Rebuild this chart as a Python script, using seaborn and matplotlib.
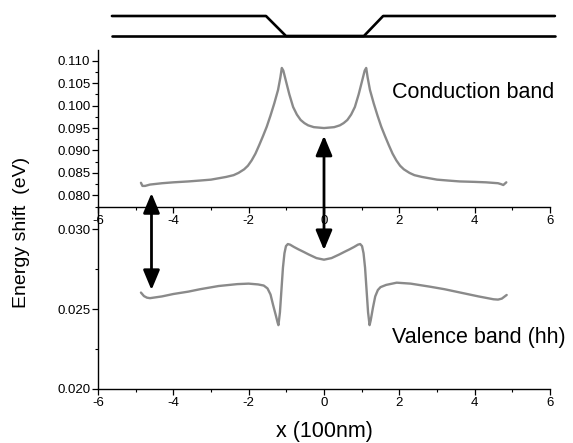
import matplotlib
matplotlib.use("Agg")
import matplotlib.pyplot as plt
import seaborn as sns
import pandas as pd
from matplotlib.ticker import MultipleLocator, FormatStrFormatter

# conduction band (top panel)
cb_x = [-4.86, -4.82, -4.75, -4.62, -4.30, -4.00, -3.60, -3.29, -3.00, -2.80, -2.60, -2.40,
        -2.27, -2.12, -2.02, -1.92, -1.82, -1.72, -1.62, -1.52, -1.42, -1.32, -1.22, -1.16,
        -1.12, -1.08, -1.02, -0.92, -0.82, -0.72, -0.62, -0.52, -0.42, -0.27, 0.0,
        0.27, 0.42, 0.52, 0.62, 0.72, 0.82, 0.92, 1.02, 1.08, 1.12, 1.16, 1.22, 1.32,
        1.42, 1.52, 1.62, 1.72, 1.82, 1.92, 2.02, 2.12, 2.27, 2.40, 2.60, 2.80, 3.00,
        3.29, 3.60, 4.00, 4.30, 4.62, 4.70, 4.76, 4.84]
cb_y = [0.0828, 0.0821, 0.0821, 0.0824, 0.0827, 0.0829, 0.0831, 0.0833, 0.0835, 0.0838, 0.0841, 0.0845,
        0.0850, 0.0858, 0.0866, 0.0878, 0.0893, 0.0912, 0.0932, 0.0953, 0.0978, 0.1005, 0.1035, 0.1062,
        0.1084, 0.1078, 0.1058, 0.1025, 0.0997, 0.0980, 0.0968, 0.0961, 0.0956, 0.0952, 0.0950,
        0.0952, 0.0956, 0.0961, 0.0968, 0.0980, 0.0997, 0.1025, 0.1058, 0.1078, 0.1084, 0.1062, 0.1035, 0.1005,
        0.0978, 0.0953, 0.0932, 0.0912, 0.0893, 0.0878, 0.0866, 0.0858, 0.0850, 0.0845, 0.0841, 0.0838, 0.0835,
        0.0833, 0.0831, 0.0830, 0.0829, 0.0827, 0.0825, 0.0823, 0.0829]

# heavy-hole valence band (bottom panel)
vb_x = [-4.86, -4.78, -4.70, -4.62, -4.30, -4.00, -3.60, -3.29, -2.80, -2.30, -2.00, -1.75,
        -1.60, -1.50, -1.42, -1.35, -1.28, -1.23, -1.21, -1.17, -1.13, -1.09, -1.05, -1.01,
        -0.96, -0.90, -0.80, -0.68, -0.55, -0.40, -0.20, 0.0,
        0.20, 0.40, 0.55, 0.68, 0.80, 0.90, 0.96, 1.01, 1.05, 1.09, 1.13, 1.17, 1.21,
        1.24, 1.30, 1.36, 1.43, 1.50, 1.65, 1.93, 2.30, 2.81, 3.20, 3.70, 4.10, 4.50,
        4.62, 4.72, 4.85]
vb_y = [0.02604, 0.02582, 0.02572, 0.02569, 0.02580, 0.02595, 0.02610, 0.02625, 0.02645, 0.02657, 0.02660, 0.02655,
        0.02648, 0.02630, 0.02592, 0.02525, 0.02462, 0.02415, 0.02400, 0.02480, 0.02620, 0.02760, 0.02850, 0.02895,
        0.02908, 0.02904, 0.02890, 0.02875, 0.02860, 0.02842, 0.02820, 0.02810,
        0.02820, 0.02842, 0.02860, 0.02875, 0.02890, 0.02904, 0.02908, 0.02895, 0.02850, 0.02760, 0.02620, 0.02480, 0.02400,
        0.02430, 0.02510, 0.02580, 0.02620, 0.02638, 0.02652, 0.02666, 0.02660, 0.02641, 0.02625, 0.02600, 0.02580, 0.02562,
        0.02560, 0.02566, 0.02589]

# structure sketch above the plot
well_x = [-5.63, -1.54, -1.01, 1.06, 1.57, 6.13]
well_y = [1, 1, 0, 0, 1, 1]
base_x = [-5.63, 6.13]
base_y = [0, 0]

# transition arrows: x, tip in conduction band, tip in valence band
arrow_x = [-4.58, 0.0]
arrow_cb = [0.0805, 0.0933]
arrow_vb = [0.0262, 0.0287]

x_ticks = [-6, -4, -2, 0, 2, 4, 6]

sns.set_style("ticks")
plt.rcParams['font.family'] = ['Liberation Sans', 'DejaVu Sans']
plt.rcParams['axes.unicode_minus'] = False
plt.rcParams['text.color'] = 'black'

fig = plt.figure(figsize=(5.73, 4.43), dpi=100)
L, R = 98 / 573, 550 / 573
ax_top = fig.add_axes([L, 1 - 207 / 443, R - L, 157 / 443])
ax_bot = fig.add_axes([L, 1 - 389 / 443, R - L, 182 / 443])
ax_sk = fig.add_axes([L, 1 - 42 / 443, R - L, 32 / 443])

grey = "#8a8a8a"
cb = pd.DataFrame({"x": cb_x, "y": cb_y})
vb = pd.DataFrame({"x": vb_x, "y": vb_y})
sns.lineplot(data=cb, x="x", y="y", ax=ax_top, color=grey, lw=1.7, sort=False, estimator=None)
sns.lineplot(data=vb, x="x", y="y", ax=ax_bot, color=grey, lw=1.7, sort=False, estimator=None)

for ax in (ax_top, ax_bot):
    ax.set_xlim(-6, 6)
    ax.set_xticks(x_ticks)
    ax.xaxis.set_minor_locator(MultipleLocator(1))
    ax.set_xlabel("")
    ax.set_ylabel("")
    ax.set_facecolor("none")
    ax.tick_params(which="major", length=4, width=0.9, labelsize=9.5, pad=1.5,
                   colors="black", labelcolor="black")
    ax.tick_params(which="minor", length=2.5, width=0.8, colors="black")
    sns.despine(ax=ax)
    for s in ("left", "bottom"):
        ax.spines[s].set_linewidth(1.0)
        ax.spines[s].set_color("black")

ax_top.set_ylim(0.0774, 0.1124)
ax_top.yaxis.set_major_locator(MultipleLocator(0.005))
ax_top.yaxis.set_minor_locator(MultipleLocator(0.0025))
ax_top.yaxis.set_major_formatter(FormatStrFormatter("%.3f"))

ax_bot.set_ylim(0.020, 0.0314)
ax_bot.yaxis.set_major_locator(MultipleLocator(0.005))
ax_bot.yaxis.set_minor_locator(MultipleLocator(0.0025))
ax_bot.yaxis.set_major_formatter(FormatStrFormatter("%.3f"))

# sketch
ax_sk.plot(well_x, well_y, color="black", lw=1.9, clip_on=False)
ax_sk.plot(base_x, base_y, color="black", lw=1.9, clip_on=False)
ax_sk.set_xlim(-6, 6)
ax_sk.set_ylim(-0.3, 1.3)
ax_sk.axis("off")

for xa, yc, yv in zip(arrow_x, arrow_cb, arrow_vb):
    ax_bot.annotate("", xy=(xa, yv), xycoords=ax_bot.transData,
                    xytext=(xa, yc), textcoords=ax_top.transData,
                    arrowprops=dict(arrowstyle="<|-|>,head_length=1.2,head_width=0.5",
                                    color="black", lw=2.0, shrinkA=0, shrinkB=0))

fig.text(473 / 573, 1 - 92 / 443, "Conduction band", fontsize=15.5, ha="center", va="center")
fig.text(479 / 573, 1 - 337 / 443, "Valence band (hh)", fontsize=15.5, ha="center", va="center")
fig.text(324 / 573, 1 - 432 / 443, "x (100nm)", fontsize=15.5, ha="center", va="center")
fig.text(22 / 573, 1 - 232 / 443, "Energy shift  (eV)", fontsize=14, rotation=90,
         ha="center", va="center")

fig.savefig("out.png", dpi=100)
